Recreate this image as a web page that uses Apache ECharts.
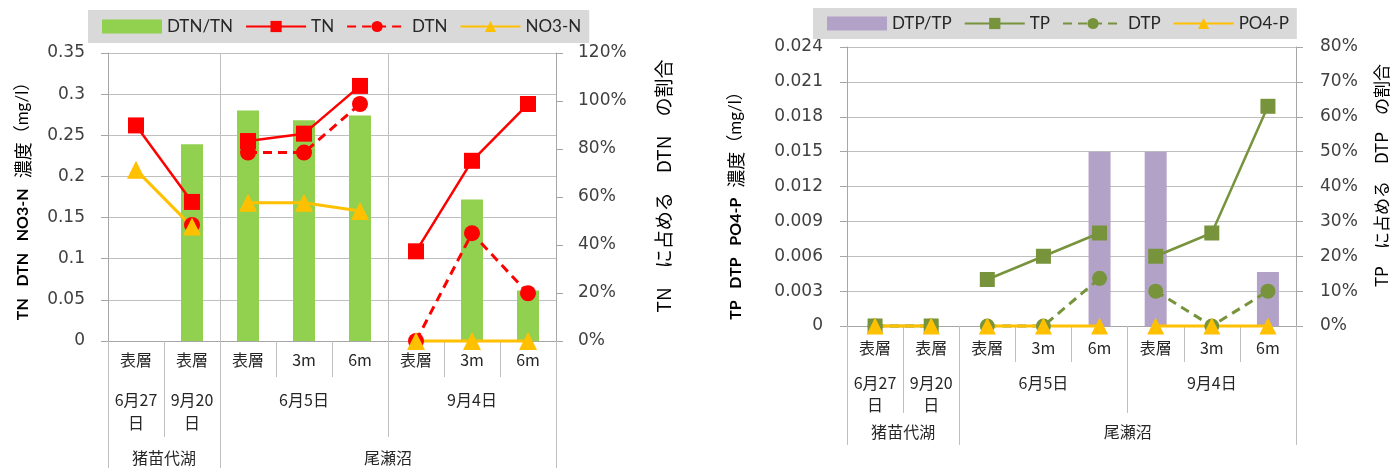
<!DOCTYPE html>
<html>
<head>
<meta charset="utf-8">
<script src="https://cdn.jsdelivr.net/npm/echarts@6/dist/echarts.min.js"></script>
<style>
html, body { margin: 0; background: #fff; }
#chart { width: 1394px; height: 468px; }
</style>
</head>
<body>
<div id="chart"></div>
<script>
// category rows
var depth = ['表層', '表層', '表層', '3m', '6m', '表層', '3m', '6m'];
var dates = ['6月27\n日', '9月20\n日', '', '6月5日', '', '', '9月4日', ''];
var lakes = ['', '猪苗代湖', '', '', '', '尾瀬沼', '', '', ''];
var groups = [[0, 1], [2, 3, 4], [5, 6, 7]];

// nitrogen (mg/l) and ratio (%)
var tn = [0.262, 0.169, 0.243, 0.252, 0.31, 0.109, 0.219, 0.288];
var dtn = [null, 0.141, 0.229, 0.229, 0.288, 0, 0.131, 0.058];
var no3n = [0.208, 0.139, 0.168, 0.168, 0.158, 0, 0, 0];
var dtnRatio = [null, 82, 96, 92, 94, null, 59, 21];

// phosphorus (mg/l) and ratio (%)
var tp = [0, 0, 0.004, 0.006, 0.008, 0.006, 0.008, 0.0189];
var dtp = [0, 0, 0, 0, 0.0041, 0.003, 0, 0.003];
var po4p = [0, 0, 0, 0, 0, 0, 0, 0];
var dtpRatio = [null, null, null, null, 50, 50, null, 15.5];

var FONT = 'Lato, "Noto Sans CJK JP", sans-serif';
var NUM = '"DejaVu Sans", sans-serif';
var JP = '"Noto Sans CJK JP", sans-serif';
var gridColor = '#bfbfbf';

function pick(list) {
  return function (i) { return list.indexOf(i) >= 0; };
}

function lineParts(name, values, xi, yi, style) {
  return groups.map(function (g) {
    return Object.assign({
      name: name, type: 'line', xAxisIndex: xi, yAxisIndex: yi, clip: false,
      data: g.map(function (i) { return [i, values[i]]; })
    }, JSON.parse(JSON.stringify(style)));
  });
}

function xAxes(gi, m, split) {
  var lbl = { interval: 0, fontSize: 16, color: '#262626', fontFamily: JP };
  return [
    { type: 'category', gridIndex: gi, position: 'bottom', data: depth,
      axisLine: { show: true, lineStyle: { color: '#a6a6a6' } },
      axisTick: { show: true, interval: 0, length: m.t1, lineStyle: { color: gridColor } },
      axisLabel: Object.assign({ margin: m.l1 }, lbl) },
    { type: 'category', gridIndex: gi, position: 'bottom', data: dates,
      axisLine: { show: false }, axisTick: { show: false },
      axisLabel: Object.assign({ margin: m.l2, lineHeight: m.lh }, lbl) },
    { type: 'category', gridIndex: gi, position: 'bottom', data: lakes, boundaryGap: false,
      axisLine: { show: false },
      axisTick: { show: true, interval: pick([0, 1, 2, 5, 8]), length: m.t2, lineStyle: { color: gridColor } },
      axisLabel: { show: false },
      splitLine: { show: split, interval: pick([2, 5]), lineStyle: { color: gridColor } } },
    { type: 'category', gridIndex: gi, position: 'bottom', data: lakes, boundaryGap: false,
      axisLine: { show: false },
      axisTick: { show: true, interval: pick([0, 2, 8]), length: m.t3, lineStyle: { color: gridColor } },
      axisLabel: Object.assign({ margin: m.l3 }, lbl) }
  ];
}

var nameRich = {
  a: { fontSize: 16, fontWeight: 'bold', fontFamily: FONT, color: '#000' },
  b: { fontSize: 18, fontFamily: JP, color: '#000' },
  c: { fontSize: 19, fontFamily: JP, color: '#000' },
  d: { fontSize: 17, fontFamily: FONT, color: '#000' },
  e: { fontSize: 17, fontFamily: JP, color: '#000' }
};

function yAxis(gi, pos, min, max, step, fmt, name, gap, pad, margin) {
  return {
    type: 'value', gridIndex: gi, position: pos, min: min, max: max, interval: step,
    name: name, nameLocation: 'middle', nameGap: gap, nameRotate: 90,
    nameTextStyle: { rich: nameRich, padding: pad },
    axisLine: { show: true, lineStyle: { color: '#a6a6a6' } },
    axisTick: { show: true, length: 7, lineStyle: { color: '#a6a6a6' } },
    axisLabel: { formatter: fmt, fontSize: 17, color: '#404040', fontFamily: NUM, margin: margin },
    splitLine: { show: pos === 'left', lineStyle: { color: gridColor } }
  };
}

var legendBase = {
  backgroundColor: '#d9d9d9', itemWidth: 60, itemHeight: 14, itemGap: 12,
  textStyle: { fontSize: 17, color: '#262626', fontFamily: FONT }
};

var series = [
  { name: 'DTN/TN', type: 'bar', xAxisIndex: 0, yAxisIndex: 1, barWidth: 22,
    itemStyle: { color: '#92d050' }, data: dtnRatio }
]
  .concat(lineParts('TN', tn, 0, 0, { symbol: 'rect', symbolSize: 16,
    lineStyle: { color: '#ff0000', width: 2.5 }, itemStyle: { color: '#ff0000' } }))
  .concat(lineParts('DTN', dtn, 0, 0, { symbol: 'circle', symbolSize: 16,
    lineStyle: { color: '#ff0000', width: 3, type: [9, 6] }, itemStyle: { color: '#ff0000' } }))
  .concat(lineParts('NO3-N', no3n, 0, 0, { symbol: 'triangle', symbolSize: 18,
    lineStyle: { color: '#ffc000', width: 3 }, itemStyle: { color: '#ffc000' } }))
  .concat([
    { name: 'DTP/TP', type: 'bar', xAxisIndex: 4, yAxisIndex: 3, barWidth: 22,
      itemStyle: { color: '#b3a2c7' }, data: dtpRatio }
  ])
  .concat(lineParts('TP', tp, 4, 2, { symbol: 'rect', symbolSize: 15,
    lineStyle: { color: '#77933c', width: 2.5 }, itemStyle: { color: '#77933c' } }))
  .concat(lineParts('DTP', dtp, 4, 2, { symbol: 'circle', symbolSize: 15,
    lineStyle: { color: '#77933c', width: 3, type: [9, 6] }, itemStyle: { color: '#77933c' } }))
  .concat(lineParts('PO4-P', po4p, 4, 2, { symbol: 'triangle', symbolSize: 17,
    lineStyle: { color: '#ffc000', width: 3 }, itemStyle: { color: '#ffc000' } }));

var chart = echarts.init(document.getElementById('chart'));
chart.setOption({
  animation: false,
  backgroundColor: '#fff',
  legend: [
    Object.assign({ left: 88, top: 10, padding: [8, 8, 8, 14],
      data: [{ name: 'DTN/TN', icon: 'rect' }, 'TN', 'DTN', 'NO3-N'] }, legendBase),
    Object.assign({ left: 813, top: 8, padding: [7, 8, 7, 14],
      data: [{ name: 'DTP/TP', icon: 'rect' }, 'TP', 'DTP', 'PO4-P'] }, legendBase)
  ],
  grid: [
    { left: 108, top: 53, width: 448, height: 288 },
    { left: 847, top: 47, width: 449, height: 279 }
  ],
  xAxis: xAxes(0, { t1: 36, t2: 96, t3: 127, l1: 11, l2: 47, l3: 109, lh: 23 }, true)
    .concat(xAxes(1, { t1: 36, t2: 87, t3: 119, l1: 14, l2: 46, l3: 98, lh: 22 }, false)),
  yAxis: [
    yAxis(0, 'left', 0, 0.35, 0.05, null,
      '{a|TN   DTN   NO3-N}   {b|濃度}{d|（mg/l）}', 76, [0, 0, 0, 0], 23),
    yAxis(0, 'right', 0, 120, 20, '{value}%',
      '{c|TN　に占める　DTN　の割合}', 98, [0, 0, 0, 22], 22),
    yAxis(1, 'left', 0, 0.024, 0.003, function (v) { return v === 0 ? '0' : v.toFixed(3); },
      '{a|TP   DTP   PO4-P}   {b|濃度}{d|（mg/l）}', 102, [0, 30, 0, 0], 24),
    yAxis(1, 'right', 0, 80, 10, '{value}%',
      '{e|TP　に占める　DTP　の割合}', 77, [0, 0, 0, 22], 24)
  ],
  series: series
});
</script>
</body>
</html>
